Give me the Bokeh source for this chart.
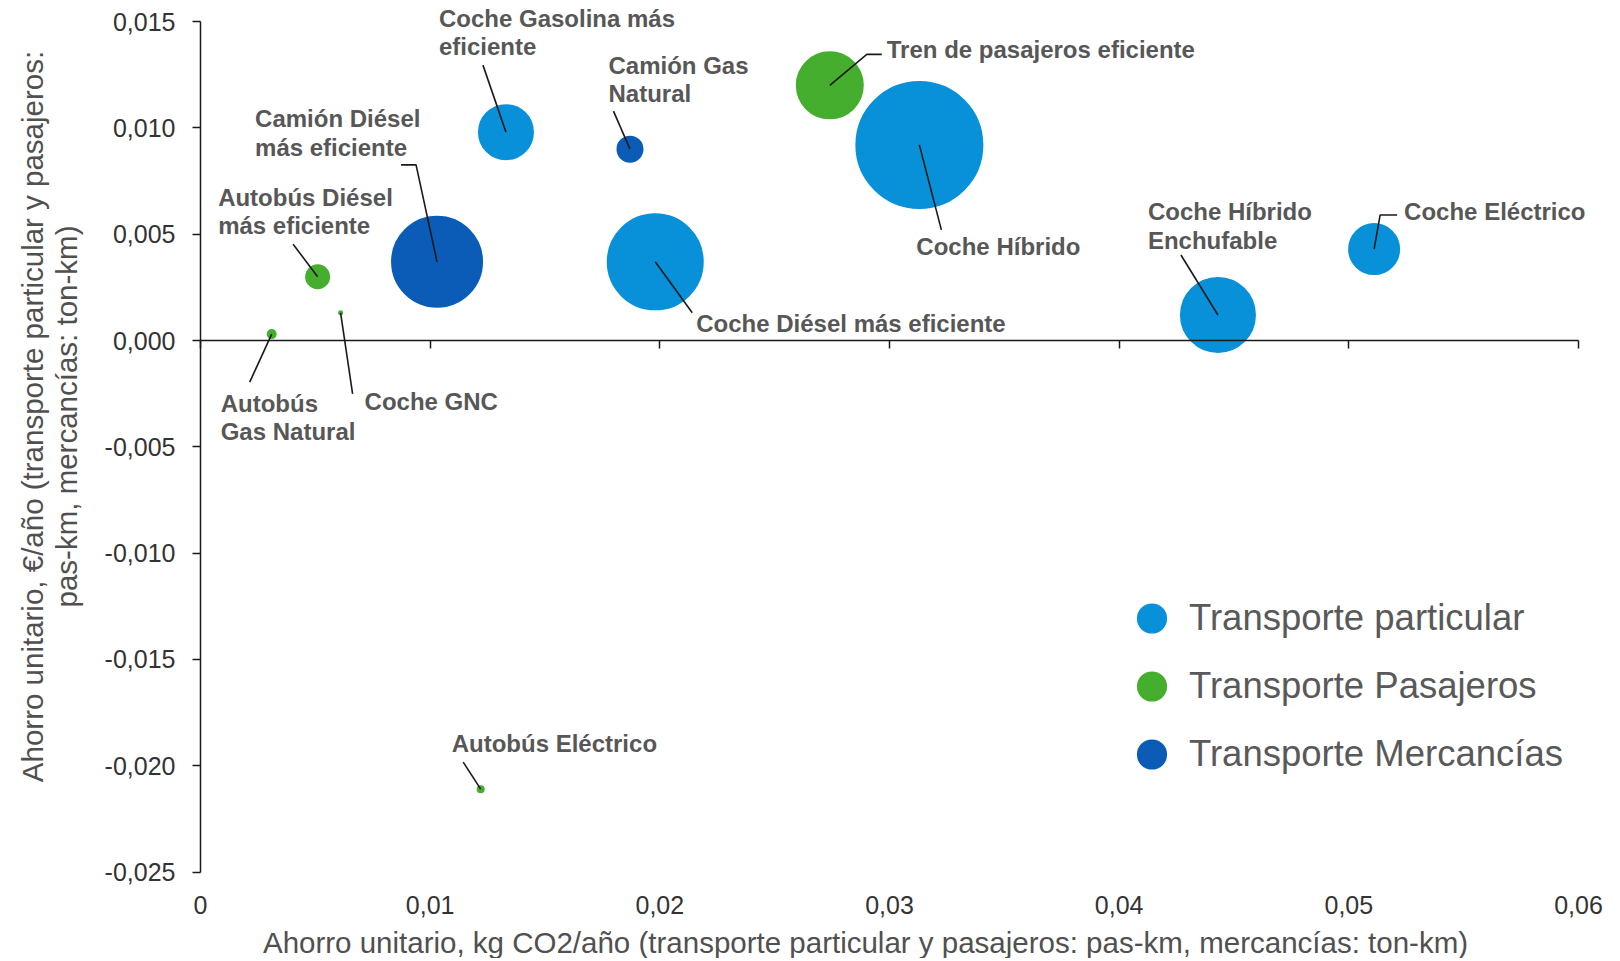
from math import pi
from bokeh.plotting import figure
from bokeh.models import (Range1d, LinearAxis, FixedTicker, CustomJSTickFormatter,
                          ColumnDataSource, LabelSet, Label, Legend, LegendItem,
                          CustomJSTransform)
from bokeh.transform import transform
from bokeh.core.properties import value
from bokeh.embed import file_html
from bokeh.resources import INLINE

# ---------------- data ----------------
names = ["Coche Gasolina más eficiente", "Camión Gas Natural", "Tren de pasajeros eficiente",
         "Coche Híbrido", "Coche Híbrido Enchufable", "Coche Eléctrico",
         "Coche Diésel más eficiente", "Camión Diésel más eficiente",
         "Autobús Diésel más eficiente", "Autobús Gas Natural", "Coche GNC", "Autobús Eléctrico"]
co2_saving = [0.0133, 0.0187, 0.0274, 0.0313, 0.0443, 0.0511, 0.0198, 0.0103, 0.0051, 0.0031, 0.0061, 0.0122]
eur_saving = [0.0098, 0.0090, 0.0120, 0.0092, 0.0012, 0.0043, 0.0037, 0.0037, 0.0030, 0.0003, 0.0013, -0.0211]
bubble_size = [56, 27, 68, 128, 76, 52, 97, 92, 25, 10, 5, 8]
segment = ["Transporte particular", "Transporte Mercancías", "Transporte Pasajeros",
           "Transporte particular", "Transporte particular", "Transporte particular",
           "Transporte particular", "Transporte Mercancías", "Transporte Pasajeros",
           "Transporte Pasajeros", "Transporte Pasajeros", "Transporte Pasajeros"]
label_lines = [["Coche Gasolina más", "eficiente"], ["Camión Gas", "Natural"],
               ["Tren de pasajeros eficiente"], ["Coche Híbrido"],
               ["Coche Híbrido", "Enchufable"], ["Coche Eléctrico"],
               ["Coche Diésel más eficiente"], ["Camión Diésel", "más eficiente"],
               ["Autobús Diésel", "más eficiente"], ["Autobús", "Gas Natural"],
               ["Coche GNC"], ["Autobús Eléctrico"]]
legend_order = ["Transporte particular", "Transporte Pasajeros", "Transporte Mercancías"]
x_ticks = [0, 0.01, 0.02, 0.03, 0.04, 0.05, 0.06]
y_ticks = [-0.025, -0.020, -0.015, -0.010, -0.005, 0.0, 0.005, 0.010, 0.015]
x_title = "Ahorro unitario, kg CO2/año (transporte particular y pasajeros: pas-km, mercancías: ton-km)"
y_title = ["Ahorro unitario, €/año (transporte particular y pasajeros:", "pas-km, mercancías: ton-km)"]

# ---------------- layout / style ----------------
colors = {"Transporte particular": "#0891D9", "Transporte Pasajeros": "#45AE2E",
          "Transporte Mercancías": "#0A5CB6"}
# label position: (dx, dy) of first text line (left, middle) from bubble centre, screen px (y down)
label_pos = [(-67, -114), (-21.5, -84), (57, -36), (-3, 102), (-70, -103), (30, -38),
             (41, 62), (-182, -143), (-99.5, -79.5), (-51, 69), (24, 89), (-29, -46)]
line_pitch = 28.5
# leader paths from bubble centre, screen px (y down)
leaders = [[(0, 0), (-23, -67)], [(0, 0), (-16.5, -38)], [(0, 0), (37, -31), (52, -31)],
           [(0, 0), (22, 85)], [(0, 0), (-37, -60)], [(0, 0), (6, -34), (23, -34)],
           [(0, 0), (37, 51)], [(0, 0), (-21, -97), (-36, -97)], [(0, 0), (-24.5, -32.5)],
           [(0, 0), (-22, 48)], [(0, 0), (12, 81)], [(0, 0), (-17.5, -27)]]

W, H = 1616, 958
PX_X = 22967.0          # px per unit on x
PX_Y = 21262.0          # px per unit on y
OX, OY = 200, 340       # canvas position of the data origin (0, 0)
XR = (-OX / PX_X, (W - OX) / PX_X)
YR = ((OY - H) / PX_Y, OY / PX_Y)
X_BOUNDS = (0, 0.06)
Y_BOUNDS = (-0.025, 0.015)
OUTLINE = 3             # same-colour outline so the legend dot matches the reference size

FONT = "Liberation Sans"

p = figure(width=W, height=H, x_range=Range1d(*XR), y_range=Range1d(*YR),
           output_backend="svg", toolbar_location=None, tools="",
           min_border=0, min_border_left=0, min_border_right=0,
           min_border_top=0, min_border_bottom=0)
p.outline_line_color = None
p.xgrid.visible = False
p.ygrid.visible = False
p.background_fill_color = "white"
p.border_fill_color = "white"

# bubbles, one renderer per segment (diameter incl. outline = bubble_size)
shrink = CustomJSTransform(v_func=f"return xs.map((v) => Math.max(v - {OUTLINE}, 0));")
legend_items = []
for seg in legend_order:
    idx = [i for i, s in enumerate(segment) if s == seg]
    src = ColumnDataSource(dict(x=[co2_saving[i] for i in idx], y=[eur_saving[i] for i in idx],
                                size=[bubble_size[i] for i in idx],
                                name=[names[i] for i in idx]))
    r = p.scatter("x", "y", size=transform("size", shrink), source=src, marker="circle",
                  fill_color=colors[seg], line_color=colors[seg], line_width=OUTLINE)
    legend_items.append(LegendItem(label=seg, renderers=[r]))

# leader lines
lx, ly = [], []
for i, path in enumerate(leaders):
    lx.append([co2_saving[i] + dx / PX_X for dx, dy in path])
    ly.append([eur_saving[i] - dy / PX_Y for dx, dy in path])
p.multi_line(lx, ly, line_color="#1a1a1a", line_width=1.6)

# bubble labels
tx, ty, txo, tyo, tt = [], [], [], [], []
for i, lines in enumerate(label_lines):
    dx, dy = label_pos[i]
    for k, t in enumerate(lines):
        tx.append(co2_saving[i]); ty.append(eur_saving[i])
        txo.append(dx); tyo.append(-(dy + k * line_pitch)); tt.append(t)
lab_src = ColumnDataSource(dict(x=tx, y=ty, xo=txo, yo=tyo, text=tt))
p.add_layout(LabelSet(x="x", y="y", x_offset="xo", y_offset="yo", text="text", source=lab_src,
                      text_font=value(FONT), text_font_style="bold", text_font_size="24px",
                      text_color="#575757", text_align="left", text_baseline="middle"))

# axes (all placed at fixed data locations)
yfmt = CustomJSTickFormatter(code="return tick.toFixed(3).replace('.', ',');")
xfmt = CustomJSTickFormatter(code="return Math.abs(tick) < 1e-9 ? '0' : tick.toFixed(2).replace('.', ',');")

ya = p.yaxis[0]
ya.fixed_location = 0
ya.ticker = FixedTicker(ticks=y_ticks)
ya.formatter = yfmt
ya.bounds = Y_BOUNDS
ya.axis_line_color = "#1a1a1a"
ya.axis_line_width = 1.5
ya.major_tick_line_color = "#1a1a1a"
ya.major_tick_line_width = 1.5
ya.major_tick_out = 8
ya.major_tick_in = 0
ya.minor_tick_line_color = None
ya.major_label_standoff = 17
ya.major_label_text_font = FONT
ya.major_label_text_font_size = "25px"
ya.major_label_text_color = "#333333"

xa = p.xaxis[0]
xa.fixed_location = Y_BOUNDS[0]
xa.ticker = FixedTicker(ticks=x_ticks)
xa.formatter = xfmt
xa.bounds = X_BOUNDS
xa.axis_line_color = None
xa.major_tick_line_color = None
xa.minor_tick_line_color = None
xa.major_tick_out = 0
xa.major_tick_in = 0
xa.major_label_standoff = 24
xa.major_label_text_font = FONT
xa.major_label_text_font_size = "25px"
xa.major_label_text_color = "#333333"

zero_axis = LinearAxis(fixed_location=0, ticker=FixedTicker(ticks=x_ticks), bounds=X_BOUNDS,
                       formatter=CustomJSTickFormatter(code="return '';"),
                       axis_line_color="#1a1a1a", axis_line_width=1.5,
                       major_tick_line_color="#1a1a1a", major_tick_line_width=1.5,
                       major_tick_out=8, major_tick_in=0, minor_tick_line_color=None,
                       major_label_text_color=None, major_label_standoff=0)
p.add_layout(zero_axis, "below")

# axis titles (screen units from the canvas bottom-left)
p.add_layout(Label(x=865, y=H - 942, x_units="screen", y_units="screen", text=x_title,
                   text_font=FONT, text_font_size="29.5px", text_color="#505050",
                   text_align="center", text_baseline="middle"))
for xx, t in zip([32, 66], y_title):
    p.add_layout(Label(x=xx, y=H - 416, x_units="screen", y_units="screen", text=t,
                       angle=pi / 2, text_font=FONT, text_font_size="29.5px",
                       text_color="#505050", text_align="center", text_baseline="middle"))

# legend
legend = Legend(items=legend_items, location=(1114, H - 788), orientation="vertical",
                glyph_width=75, glyph_height=68, spacing=0, label_standoff=0,
                padding=0, margin=0, border_line_color=None, background_fill_alpha=0,
                label_text_font=FONT, label_text_font_size="36.5px", label_text_color="#595959",
                label_text_baseline="middle")
p.add_layout(legend, "center")

open("out.html", "w").write(file_html(p, INLINE))
